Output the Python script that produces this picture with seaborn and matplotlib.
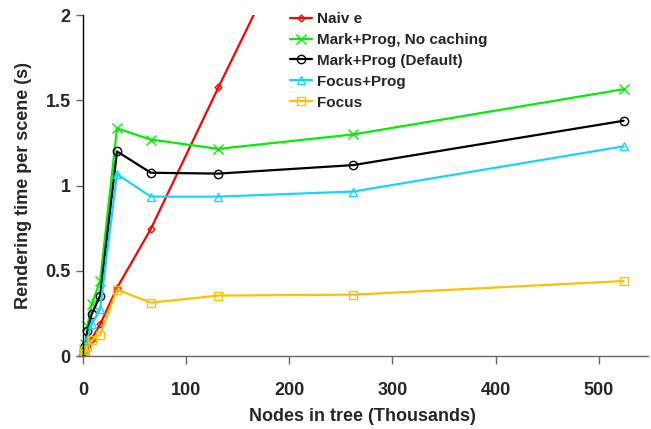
import matplotlib
matplotlib.use("Agg")
import matplotlib.pyplot as plt
import seaborn as sns
import pandas as pd

nodes_k = [0.512, 1.024, 2.048, 4.096, 8.192, 16.384, 32.768, 65.536, 131.072, 262.144, 524.288]

naive = [0.01, 0.02, 0.035, 0.06, 0.10, 0.186, 0.40, 0.745, 1.575, 3.2]
mark_prog_nocache = [0.02, 0.035, 0.07, 0.175, 0.305, 0.44, 1.335, 1.27, 1.215, 1.30, 1.565]
mark_prog_default = [0.015, 0.03, 0.06, 0.147, 0.245, 0.355, 1.20, 1.075, 1.07, 1.12, 1.38]
focus_prog = [0.01, 0.025, 0.05, 0.10, 0.186, 0.276, 1.067, 0.935, 0.935, 0.965, 1.23]
focus = [0.01, 0.02, 0.035, 0.055, 0.094, 0.125, 0.39, 0.313, 0.355, 0.36, 0.44]

series_names = ["Naiv e", "Mark+Prog, No caching", "Mark+Prog (Default)", "Focus+Prog", "Focus"]
series_values = [naive, mark_prog_nocache, mark_prog_default, focus_prog, focus]
colors = ["#ff0000", "#00ee00", "#000000", "#19d3ff", "#ffc000"]
markers = ["D", "x", "o", "^", "s"]
msizes = [3.5, 7, 6, 6, 6]

xticks = [0, 100, 200, 300, 400, 500]
yticks = [0, 0.5, 1, 1.5, 2]
ytick_labels = ["0", "0.5", "1", "1.5", "2"]

sns.set_style("white")
plt.rcParams["font.family"] = ["Liberation Sans", "DejaVu Sans"]
plt.rcParams["font.weight"] = "bold"

fig = plt.figure(figsize=(6.51, 4.29), dpi=100)
ax = fig.add_axes([0.119, 0.170, 0.876, 0.795])

for name, vals, c, m, ms in zip(series_names, series_values, colors, markers, msizes):
    df = pd.DataFrame({"x": nodes_k[:len(vals)], "y": vals})
    sns.lineplot(data=df, x="x", y="y", ax=ax, color=c, marker=m, markersize=ms,
                 markerfacecolor="none", markeredgecolor=c, markeredgewidth=1.0,
                 linewidth=1.6, label=name, clip_on=True)

ax.set_xlim(-5.6, 547.7)
ax.set_ylim(0, 2)
ax.set_xticks(xticks)
ax.set_xticklabels([str(t) for t in xticks])
ax.set_yticks(yticks)
ax.set_yticklabels(ytick_labels)

for s in ["top", "right"]:
    ax.spines[s].set_visible(False)
ax.spines["left"].set_position(("data", 0))
ax.spines["left"].set_color("black")
ax.spines["left"].set_linewidth(1.0)
ax.spines["bottom"].set_color("#666666")
ax.spines["bottom"].set_linewidth(1.0)

ax.tick_params(axis="x", direction="out", length=6, width=1, color="#666666",
               labelsize=13, pad=13, bottom=True)
ax.tick_params(axis="y", direction="out", length=5, width=1, color="#666666",
               labelsize=13, pad=4, left=True)
for lab in ax.get_xticklabels() + ax.get_yticklabels():
    lab.set_fontweight("bold")

ax.set_xlabel("Nodes in tree (Thousands)", fontsize=13, fontweight="bold", labelpad=6)
ax.set_ylabel("Rendering time per scene (s)", fontsize=13, fontweight="bold")
ax.yaxis.set_label_coords(-0.08, 0.5)

leg = ax.legend(loc="upper left", bbox_to_anchor=(0.348, 1.049), frameon=False,
                prop={"weight": "bold", "size": 11}, handlelength=1.45,
                handletextpad=0.35, labelspacing=0.45)

fig.savefig("out.png", dpi=100)
